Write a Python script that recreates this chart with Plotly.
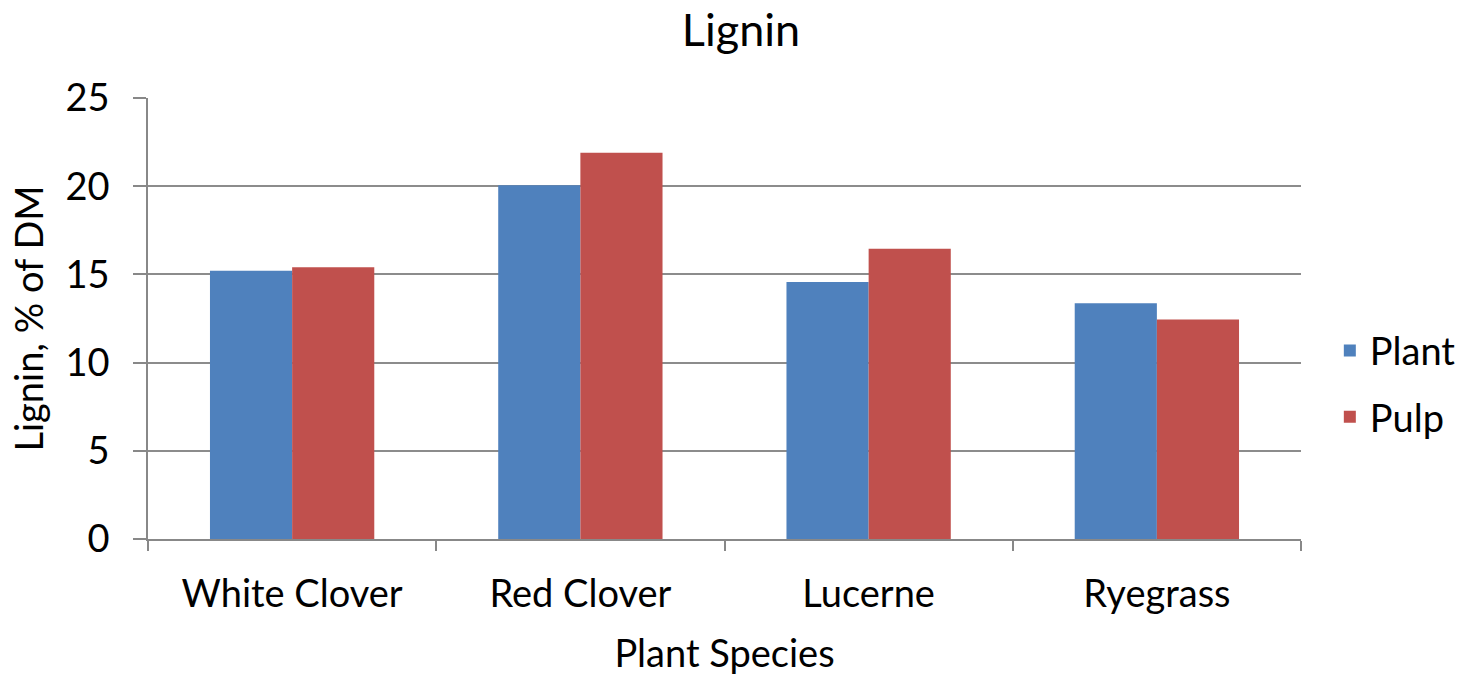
import plotly.graph_objects as go

categories = ["White Clover", "Red Clover", "Lucerne", "Ryegrass"]
plant = [15.2, 20.05, 14.57, 13.37]
pulp = [15.4, 21.9, 16.45, 12.44]
y_ticks = [0, 5, 10, 15, 20, 25]

FONT = "Lato, Carlito, Calibri, sans-serif"
FS = 38

fig = go.Figure()
fig.add_trace(go.Bar(name="Plant", x=categories, y=plant, marker_color="#4F81BD",
                     marker_line_width=0, legendgroup="a"))
fig.add_trace(go.Bar(name="Pulp", x=categories, y=pulp, marker_color="#C0504D",
                     marker_line_width=0, legendgroup="b"))

fig.update_layout(
    width=1482, height=675,
    margin=dict(l=148, r=181, t=98, b=136),
    paper_bgcolor="white", plot_bgcolor="white",
    font=dict(family=FONT, size=FS, color="black"),
    barmode="group", bargap=0.43, bargroupgap=0,
    title=dict(text="Lignin", x=0.5, xanchor="center", y=0.955, yanchor="middle",
               font=dict(size=45, family=FONT)),
    legend=dict(x=1.025, xanchor="left", y=0.352, yanchor="middle",
                font=dict(size=FS, family=FONT),
                tracegroupgap=14),
    showlegend=True,
)
fig.update_xaxes(
    automargin=False,
    showline=True, linecolor="#888888", linewidth=1.5,
    ticks="outside", tickson="boundaries", ticklen=10, tickcolor="#888888", tickwidth=1.5,
    title=dict(text="Plant Species", font=dict(size=FS, family=FONT), standoff=26),
    tickfont=dict(size=FS, family=FONT),
    ticklabelstandoff=21,
    showgrid=False,
)
fig.update_yaxes(
    automargin=False,
    range=[0, 25], tickvals=y_ticks,
    showline=True, linecolor="#888888", linewidth=1.5,
    ticks="outside", ticklen=13, tickcolor="#888888", tickwidth=1.5,
    showgrid=True, gridcolor="#8c8c8c", gridwidth=1.5,
    zeroline=False,
    title=dict(text="Lignin, % of DM", font=dict(size=FS, family=FONT), standoff=10),
    tickfont=dict(size=FS, family=FONT),
    ticklabelstandoff=16,
)

fig.write_html("out.html")
